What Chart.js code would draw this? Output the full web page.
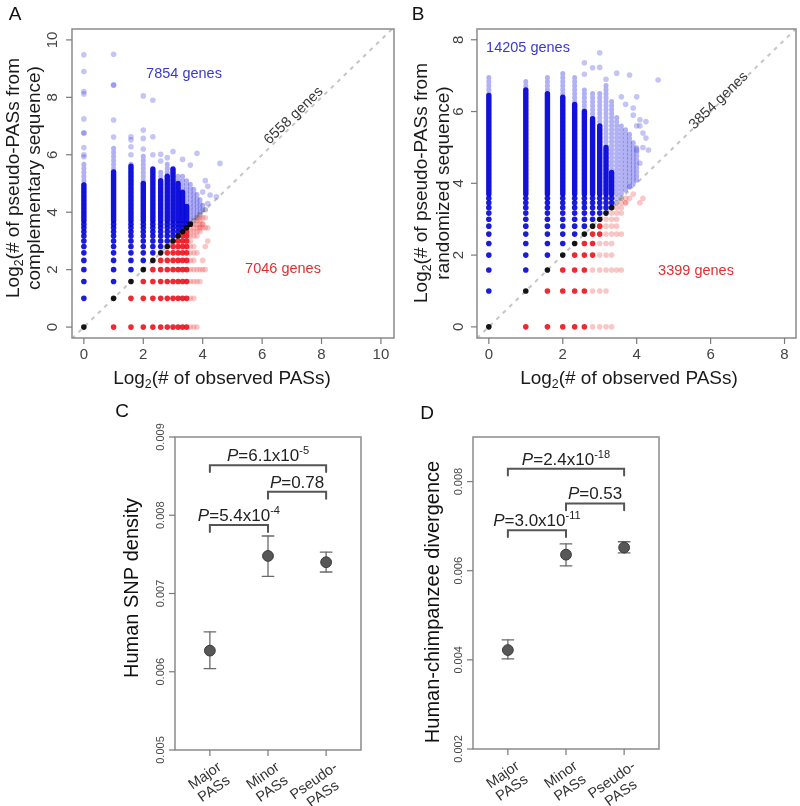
<!DOCTYPE html>
<html>
<head>
<meta charset="utf-8">
<title>Pseudo-PAS figure</title>
<script src="https://cdn.jsdelivr.net/npm/chart.js@4.4.0/dist/chart.umd.min.js"></script>
<style>
  body { margin: 0; background: #fff; }
  #fig { position: relative; width: 800px; height: 806px; }
  .panel { position: absolute; }
</style>
</head>
<body>
<div id="fig">
  <div class="panel" style="left:0;top:0;width:400px;height:400px"><canvas id="chartA"></canvas></div>
  <div class="panel" style="left:400px;top:0;width:400px;height:400px"><canvas id="chartB"></canvas></div>
  <div class="panel" style="left:0;top:400px;width:400px;height:406px"><canvas id="chartC"></canvas></div>
  <div class="panel" style="left:400px;top:400px;width:400px;height:406px"><canvas id="chartD"></canvas></div>
</div>
<script>
const FONT = '"Liberation Sans", Arial, Helvetica, sans-serif';

// ---- Panel A: log2 observed PASs vs log2 pseudo-PASs (complementary sequence)
const colsA = [0, 1, 1.585, 2, 2.322, 2.585, 2.807, 3, 3.17, 3.322, 3.459, 3.585, 3.7, 3.807, 3.907, 4];
const rowsA = [0, 1, 1.585, 2, 2.322, 2.585, 2.807, 3, 3.17, 3.322, 3.459, 3.585];
const rowSolidEndA = [3.459, 3.459, 3.459, 3.459, 3.459, 3.459, 3.459, 3.459, 3.459, 3.459, 3.459, 3.585];
const rowFaintEndA = [3.807, 3.7, 3.907, 4, 3.7, 3.807, 3.7, 3.585, 3.807, 3.907, 4, 4];
// dense column runs: x, start, top of solid part, top of faint part
const barXA = [0, 1, 1.585, 2, 2.322, 2.585, 2.807, 3, 3.17, 3.322, 3.459, 3.585, 3.7, 3.807, 3.907, 4];
const barFromA = [3.7, 3.7, 3.7, 3.7, 3.7, 3.7, 3.7, 3.7, 3.7, 3.7, 3.7, 3.7, 3.807, 3.907, 4, 4.087];
const barSolidA = [4.95, 5.4, 5.6, 5.0, 5.5, 5.1, 5.25, 5.5, 5.0, 4.7, 4.2, 3.7, 3.807, 3.907, 4, 4.087];
const barTopA = [5.75, 6.3, 5.7, 6.0, 5.65, 5.4, 5.75, 5.55, 5.35, 5.3, 5.1, 5.0, 4.9, 4.7, 4.5, 4.3];
const sparseA = [
  [0, 5.93], [0, 6.0], [0, 6.25], [0, 6.76], [0, 6.76], [0, 7.25], [0, 8.12], [0, 8.2], [0, 8.9], [0, 9.48],
  [1, 6.62], [1, 7.21], [1, 8.43], [1, 8.43], [1, 9.5],
  [1.585, 6.0], [1.585, 6.28], [1.585, 6.52], [1.585, 6.63],
  [2, 6.2], [2, 6.57], [2, 6.86], [2, 8.05],
  [2.322, 6.0], [2.322, 6.63], [2.322, 7.9],
  [2.585, 5.78], [2.585, 6.02], [2.807, 5.9], [3, 6.11], [3.322, 5.84], [3.585, 5.64], [3.807, 6.05],
  [4, 4.7], [4.087, 5.1], [4.17, 4.9], [4.17, 4.3], [4.25, 4.6], [4.46, 4.54], [4.58, 5.7],
  [3.807, 3.7], [3.907, 3.7], [3.907, 3.807], [4, 3.807], [4, 3.585], [4.087, 3.459], [4.087, 3.807],
  [4.17, 3.459], [4.17, 3.0], [4.087, 2.807], [4, 2.322], [4.087, 2.0], [3.907, 3.459],
  [3.7, 3.7], [3.807, 3.807], [3.907, 3.907], [4.087, 4.087]
];
const xTicksA = [0, 2, 4, 6, 8, 10];
const yTicksA = [0, 2, 4, 6, 8, 10];

// ---- Panel B: randomized sequence
const colsB = [0, 1, 1.585, 2, 2.322, 2.585, 2.807, 3, 3.17, 3.322, 3.459, 3.585, 3.7, 3.807, 3.907, 4];
const rowsB = [0, 1, 1.585, 2, 2.322, 2.585, 2.807, 3, 3.17, 3.322, 3.459, 3.585];
const rowSolidEndB = [2.585, 2.585, 2.585, 2.807, 2.807, 3, 3, 3, 3.17, 3.322, 3.322, 3.322];
const rowFaintEndB = [3.322, 3.17, 3.585, 3.322, 3.322, 3.585, 3.459, 3.459, 3.585, 3.585, 3.7, 3.7];
const barXB = [0, 1, 1.585, 2, 2.322, 2.585, 2.807, 3, 3.17, 3.322, 3.459, 3.585, 3.7, 3.807, 3.907, 4];
const barFromB = [3.7, 3.7, 3.7, 3.7, 3.7, 3.7, 3.7, 3.7, 3.7, 3.7, 3.7, 3.7, 3.807, 3.907, 4, 4.087];
const barSolidB = [6.45, 6.6, 6.5, 6.4, 6.2, 6.0, 5.8, 5.6, 5.0, 4.3, 3.7, 3.7, 3.807, 3.907, 4, 4.087];
const barTopB = [6.97, 6.9, 7.0, 7.15, 7.0, 6.6, 6.5, 6.55, 6.74, 6.3, 5.9, 5.6, 5.5, 5.4, 5.2, 5.0];
const sparseB = [
  [2.585, 7.04], [2.585, 7.36], [2.807, 7.22], [3, 7.23], [3, 7.64], [3.17, 6.9], [3.459, 7.07],
  [3.585, 6.41], [3.7, 6.2], [3.807, 7.02], [3.907, 5.9], [3.907, 6.1], [4, 6.41], [4, 5.6], [4, 4.93],
  [4.087, 5.77], [4.087, 5.6], [4.087, 4.56], [4.17, 5.4], [4.17, 5.0], [4.25, 5.72], [4.25, 5.26],
  [4.32, 4.93], [4.58, 6.88], [3.807, 3.907],
  [4.087, 3.459], [4.17, 3.585], [3.807, 3.585], [3.907, 3.7], [3.7, 3.459]
];
const xTicksB = [0, 2, 4, 6, 8];
const yTicksB = [0, 2, 4, 6, 8];

// ---- Panels C and D: means with error bars
const catTicks = [1, 2, 3];
const catLabels = [['Major', 'PASs'], ['Minor', 'PASs'], ['Pseudo-', 'PASs']];
const snpMean = [0.00627, 0.00748, 0.0074];
const snpLow = [0.00604, 0.00722, 0.007275];
const snpHigh = [0.00651, 0.007735, 0.00753];
const yTicksC = [0.005, 0.006, 0.007, 0.008, 0.009];
const bracketFromC = [1, 2, 1];
const bracketToC = [3, 3, 2];
const bracketYC = [0.00864, 0.0083, 0.007875];
const pTextC = ['6.1x10', '0.78', '5.4x10'];
const pExpC = ['-5', '', '-4'];

const divMean = [0.00422, 0.00636, 0.00652];
const divLow = [0.00402, 0.00611, 0.0064];
const divHigh = [0.00445, 0.0066, 0.00665];
const yTicksD = [0.002, 0.004, 0.006, 0.008];
const bracketFromD = [1, 2, 1];
const bracketToD = [3, 3, 2];
const bracketYD = [0.00829, 0.00751, 0.00691];
const pTextD = ['2.4x10', '0.53', '3.0x10'];
const pExpD = ['-18', '', '-11'];

// colours: [dense, faint]
const DOT = {
  blue: ['rgba(8,8,215,0.92)', 'rgba(70,70,225,0.32)'],
  red: ['rgba(238,22,32,0.92)', 'rgba(238,80,80,0.32)'],
  black: ['rgba(0,0,0,0.92)', 'rgba(60,60,60,0.35)']
};

function tone(x, y) {
  if (Math.abs(x - y) < 0.02) return 'black';
  return y > x ? 'blue' : 'red';
}

function seg(data, color, width, order) {
  return { data, showLine: true, borderColor: color, borderWidth: width, pointRadius: 0,
           borderCapStyle: 'round', order: order || 3 };
}

function scatterSets(cols, rows, solidEnd, faintEnd, barX, barFrom, barSolid, barTop, sparse, lim) {
  const groups = { blue: [[], []], red: [[], []], black: [[], []] };
  rows.forEach((y, i) => {
    cols.forEach(x => {
      if (x > faintEnd[i] + 0.001) return;
      groups[tone(x, y)][x <= solidEnd[i] + 0.001 ? 0 : 1].push({ x, y });
    });
  });
  sparse.forEach(([x, y]) => groups[tone(x, y)][1].push({ x, y }));

  const sets = [];
  // y = x reference line
  sets.push({ data: [{ x: lim[0], y: lim[0] }, { x: lim[1], y: lim[1] }], showLine: true,
              borderColor: 'rgba(195,195,195,0.95)', borderWidth: 2, borderDash: [4, 5],
              pointRadius: 0, order: 9 });
  barX.forEach((x, i) => {
    // faint upper part: a dotted run of single genes
    const faint = seg([{ x, y: barFrom[i] }, { x, y: barTop[i] }], 'rgba(60,60,225,0.4)', 5, 7);
    faint.borderDash = [0.5, 3.5];
    sets.push(faint);
    if (barSolid[i] > barFrom[i]) {
      sets.push(seg([{ x, y: barFrom[i] }, { x, y: barSolid[i] }], 'rgba(8,8,218,0.95)', 5.4, 4));
    }
  });
  Object.keys(groups).forEach(k => {
    groups[k].forEach((pts, j) => {
      sets.push({ data: pts, pointRadius: 2.8, pointBorderWidth: 0, backgroundColor: DOT[k][j],
                  borderColor: DOT[k][j], order: j ? 6 : (k === 'black' ? 1 : 2) });
    });
  });
  return sets;
}

function catSets(mean, low, high, bFrom, bTo, bY, yMin, yMax) {
  const sets = [];
  const cap = 0.1;
  const leg = (yMax - yMin) * 0.022;
  const err = '#6a6a6a';
  mean.forEach((m, i) => {
    const x = catTicks[i];
    sets.push(seg([{ x, y: low[i] }, { x, y: high[i] }], err, 1.3));
    sets.push(seg([{ x: x - cap, y: high[i] }, { x: x + cap, y: high[i] }], err, 1.3));
    sets.push(seg([{ x: x - cap, y: low[i] }, { x: x + cap, y: low[i] }], err, 1.3));
  });
  sets.push({ data: mean.map((m, i) => ({ x: catTicks[i], y: m })), pointRadius: 5.4,
              backgroundColor: '#575757', borderColor: '#3a3a3a', pointBorderWidth: 1, order: 1 });
  bY.forEach((y, i) => {
    sets.push(seg([{ x: bFrom[i], y: y - leg }, { x: bFrom[i], y }, { x: bTo[i], y }, { x: bTo[i], y: y - leg }],
                  '#555', 2, 2));
  });
  return sets;
}

// ---- text helpers
function partFont(p, size) {
  const s = (p.s === 'sub' || p.s === 'sup') ? size * 0.65 : size;
  return (p.s === 'i' ? 'italic ' : '') + s + 'px ' + FONT;
}

function drawRich(ctx, parts, x, y, size, align) {
  let w = 0;
  parts.forEach(p => { ctx.font = partFont(p, size); w += ctx.measureText(p.t).width; });
  let cx = align === 'center' ? x - w / 2 : align === 'right' ? x - w : x;
  ctx.textAlign = 'left';
  ctx.textBaseline = 'alphabetic';
  parts.forEach(p => {
    ctx.font = partFont(p, size);
    const dy = p.s === 'sub' ? size * 0.25 : p.s === 'sup' ? -size * 0.42 : 0;
    ctx.fillText(p.t, cx, y + dy);
    cx += ctx.measureText(p.t).width;
  });
}

function rotText(ctx, parts, x, y, size, angle) {
  ctx.save();
  ctx.translate(x, y);
  ctx.rotate(angle);
  drawRich(ctx, parts, 0, size * 0.35, size, 'center');
  ctx.restore();
}

function plainText(ctx, text, x, y, size, color) {
  ctx.fillStyle = color;
  drawRich(ctx, [{ t: text }], x, y + size * 0.35, size, 'center');
}

function drawBox(chart, ctx) {
  const a = chart.chartArea;
  ctx.strokeStyle = '#8a8a8a';
  ctx.lineWidth = 1.5;
  ctx.strokeRect(a.left, a.top, a.right - a.left, a.bottom - a.top);
}

function tick(ctx, x1, y1, x2, y2) {
  ctx.strokeStyle = '#7a7a7a';
  ctx.lineWidth = 1.2;
  ctx.beginPath();
  ctx.moveTo(x1, y1);
  ctx.lineTo(x2, y2);
  ctx.stroke();
}

function drawScatterAxes(chart, ctx, xTicks, yTicks, lx, ly) {
  const a = chart.chartArea;
  const xs = chart.scales.x, ys = chart.scales.y;
  drawBox(chart, ctx);
  xTicks.forEach(v => {
    const px = xs.getPixelForValue(v);
    tick(ctx, px, a.bottom, px, a.bottom + 6);
    plainText(ctx, String(v), px, ly, 15, '#444');
  });
  yTicks.forEach(v => {
    const py = ys.getPixelForValue(v);
    tick(ctx, a.left - 6, py, a.left, py);
    ctx.fillStyle = '#444';
    rotText(ctx, [{ t: String(v) }], lx, py, 15, -Math.PI / 2);
  });
}

function logTitle(rest) {
  return [{ t: 'Log' }, { t: '2', s: 'sub' }, { t: rest }];
}

function scatterPlugin(cfg) {
  return {
    id: 'rAxes',
    afterDraw(chart) {
      const ctx = chart.ctx;
      ctx.save();
      drawScatterAxes(chart, ctx, cfg.xTicks, cfg.yTicks, cfg.tickX, 354);
      ctx.fillStyle = '#1a1a1a';
      drawRich(ctx, logTitle('(# of observed PASs)'), cfg.xTitle, 377 + 19 * 0.35, 19, 'center');
      rotText(ctx, logTitle('(# of pseudo-PASs from'), cfg.yTitleX[0], cfg.yTitleY, 19, -Math.PI / 2);
      rotText(ctx, [{ t: cfg.yTitle2 }], cfg.yTitleX[1], cfg.yTitleY, 19, -Math.PI / 2);
      plainText(ctx, cfg.letter[0], cfg.letter[1], cfg.letter[2], 19, '#111');
      plainText(ctx, cfg.upper[0], cfg.upper[1], cfg.upper[2], 14.5, '#3a3acb');
      plainText(ctx, cfg.lower[0], cfg.lower[1], cfg.lower[2], 14.5, '#dd3030');
      ctx.fillStyle = '#3a3a3a';
      rotText(ctx, [{ t: cfg.diag[0] }], cfg.diag[1], cfg.diag[2], 14.5, -44 * Math.PI / 180);
      ctx.restore();
    }
  };
}

function catPlugin(cfg) {
  return {
    id: 'rAxes',
    afterDraw(chart) {
      const ctx = chart.ctx;
      const a = chart.chartArea;
      const xs = chart.scales.x, ys = chart.scales.y;
      ctx.save();
      drawBox(chart, ctx);
      cfg.yTicks.forEach(v => {
        const py = ys.getPixelForValue(v);
        tick(ctx, a.left - 6, py, a.left, py);
        ctx.fillStyle = '#4a4a4a';
        rotText(ctx, [{ t: v.toFixed(3) }], a.left - 15, py, 11, -Math.PI / 2);
      });
      catTicks.forEach((v, i) => {
        const px = xs.getPixelForValue(v);
        tick(ctx, px, a.bottom, px, a.bottom + 6);
        ctx.save();
        ctx.translate(px + 6, a.bottom + 10);
        ctx.rotate(-35 * Math.PI / 180);
        ctx.fillStyle = '#333';
        ctx.font = '14.5px ' + FONT;
        const lines = catLabels[i];
        const w = Math.max(...lines.map(s => ctx.measureText(s).width));
        lines.forEach((s, j) => drawRich(ctx, [{ t: s }], -w / 2, 11 + j * 16, 14.5, 'center'));
        ctx.restore();
      });
      ctx.fillStyle = '#111';
      rotText(ctx, [{ t: cfg.yTitle }], cfg.yTitleX, cfg.yTitleY, 20, -Math.PI / 2);
      plainText(ctx, cfg.letter[0], cfg.letter[1], cfg.letter[2], 19, '#111');
      cfg.bY.forEach((y, i) => {
        const cx = (xs.getPixelForValue(cfg.bFrom[i]) + xs.getPixelForValue(cfg.bTo[i])) / 2;
        const py = ys.getPixelForValue(y) - 4;
        const parts = [{ t: 'P', s: 'i' }, { t: '=' + cfg.pText[i] }];
        if (cfg.pExp[i]) parts.push({ t: cfg.pExp[i], s: 'sup' });
        ctx.fillStyle = '#222';
        drawRich(ctx, parts, cx, py, 17, 'center');
      });
      ctx.restore();
    }
  };
}

function makeChart(id, datasets, padding, xr, yr, plugin) {
  return new Chart(document.getElementById(id), {
    type: 'scatter',
    data: { datasets },
    options: {
      responsive: true,
      maintainAspectRatio: false,
      animation: false,
      events: [],
      layout: { padding },
      plugins: { legend: { display: false }, tooltip: { enabled: false } },
      scales: {
        x: { type: 'linear', min: xr[0], max: xr[1], display: false },
        y: { type: 'linear', min: yr[0], max: yr[1], display: false }
      }
    },
    plugins: [plugin]
  });
}

makeChart('chartA',
  scatterSets(colsA, rowsA, rowSolidEndA, rowFaintEndA, barXA, barFromA, barSolidA, barTopA, sparseA, [-0.4, 10.44]),
  { left: 72, top: 29, right: 6, bottom: 62 }, [-0.4, 10.44], [-0.38, 10.38],
  scatterPlugin({ xTicks: xTicksA, yTicks: yTicksA, tickX: 52, xTitle: 222, yTitleX: [12, 33], yTitleY: 178,
                  yTitle2: 'complementary sequence)', letter: ['A', 15, 13],
                  upper: ['7854 genes', 184, 73], lower: ['7046 genes', 283, 268], diag: ['6558 genes', 293, 115] }));

makeChart('chartB',
  scatterSets(colsB, rowsB, rowSolidEndB, rowFaintEndB, barXB, barFromB, barSolidB, barTopB, sparseB, [-0.32, 8.31]),
  { left: 77, top: 29, right: 2, bottom: 62 }, [-0.32, 8.31], [-0.31, 8.3],
  scatterPlugin({ xTicks: xTicksB, yTicks: yTicksB, tickX: 58, xTitle: 229, yTitleX: [20, 42], yTitleY: 183,
                  yTitle2: 'randomized sequence)', letter: ['B', 18, 13],
                  upper: ['14205 genes', 128, 47], lower: ['3399 genes', 296, 270], diag: ['3854 genes', 318, 100] }));

makeChart('chartC',
  catSets(snpMean, snpLow, snpHigh, bracketFromC, bracketToC, bracketYC, 0.005, 0.009),
  { left: 175, top: 37, right: 39, bottom: 56 }, [0.4, 3.6], [0.005, 0.009],
  catPlugin({ yTicks: yTicksC, yTitle: 'Human SNP density', yTitleX: 131, yTitleY: 188, letter: ['C', 122, 10],
              bFrom: bracketFromC, bTo: bracketToC, bY: bracketYC, pText: pTextC, pExp: pExpC }));

makeChart('chartD',
  catSets(divMean, divLow, divHigh, bracketFromD, bracketToD, bracketYD, 0.002, 0.009),
  { left: 73, top: 37, right: 141, bottom: 57 }, [0.4, 3.6], [0.002, 0.009],
  catPlugin({ yTicks: yTicksD, yTitle: 'Human-chimpanzee divergence', yTitleX: 32, yTitleY: 202, letter: ['D', 27, 12],
              bFrom: bracketFromD, bTo: bracketToD, bY: bracketYD, pText: pTextD, pExp: pExpD }));
</script>
</body>
</html>
